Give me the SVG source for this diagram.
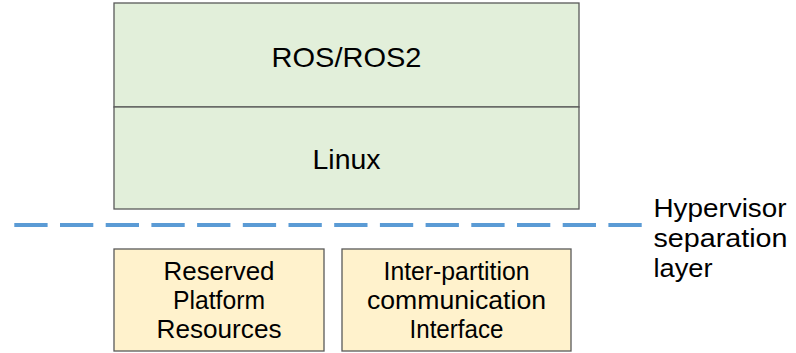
<svg xmlns="http://www.w3.org/2000/svg" width="796" height="353" viewBox="0 0 796 353">
  <style>
    .green { fill: #e2efda; stroke: #595959; stroke-width: 1.3; }
    .orange { fill: #fff2cc; stroke: #595959; stroke-width: 1.3; }
    .big { font-family: "Liberation Sans", Arial, sans-serif; font-size: 28px; fill: #000; text-anchor: middle; }
    .small { font-family: "Liberation Sans", Arial, sans-serif; font-size: 25px; fill: #000; text-anchor: middle; }
    .label { font-family: "Liberation Sans", Arial, sans-serif; font-size: 25px; fill: #000; }
    .sep { stroke: #5b9bd5; stroke-width: 4; stroke-dasharray: 33.3 12.4; fill: none; }
  </style>
  <rect width="796" height="353" fill="#ffffff"/>
  <g id="ros">
    <rect class="green" x="114" y="3" width="465" height="104"/>
    <text class="big" x="346.5" y="67" textLength="150" lengthAdjust="spacingAndGlyphs">ROS/ROS2</text>
  </g>
  <g id="linux">
    <rect class="green" x="114" y="107" width="465" height="102"/>
    <text class="big" x="346.5" y="169" textLength="68" lengthAdjust="spacingAndGlyphs">Linux</text>
  </g>
  <g id="separator">
    <line class="sep" x1="14.3" y1="225" x2="641.7" y2="225"/>
  </g>
  <g id="hypervisor-label">
    <text class="label" x="653.5" y="216.5" textLength="133" lengthAdjust="spacingAndGlyphs">Hypervisor</text>
    <text class="label" x="653.5" y="246.5" textLength="134" lengthAdjust="spacingAndGlyphs">separation</text>
    <text class="label" x="653.5" y="276.5" textLength="59" lengthAdjust="spacingAndGlyphs">layer</text>
  </g>
  <g id="reserved">
    <rect class="orange" x="114" y="249" width="210" height="102"/>
    <text class="small" x="219" y="279.5" textLength="111" lengthAdjust="spacingAndGlyphs">Reserved</text>
    <text class="small" x="219" y="308.5" textLength="92" lengthAdjust="spacingAndGlyphs">Platform</text>
    <text class="small" x="219" y="337.5" textLength="125" lengthAdjust="spacingAndGlyphs">Resources</text>
  </g>
  <g id="ipc">
    <rect class="orange" x="342" y="249" width="229" height="102"/>
    <text class="small" x="456.5" y="279.5" textLength="146" lengthAdjust="spacingAndGlyphs">Inter-partition</text>
    <text class="small" x="456.5" y="308.5" textLength="179" lengthAdjust="spacingAndGlyphs">communication</text>
    <text class="small" x="456.5" y="337.5" textLength="94" lengthAdjust="spacingAndGlyphs">Interface</text>
  </g>
</svg>
